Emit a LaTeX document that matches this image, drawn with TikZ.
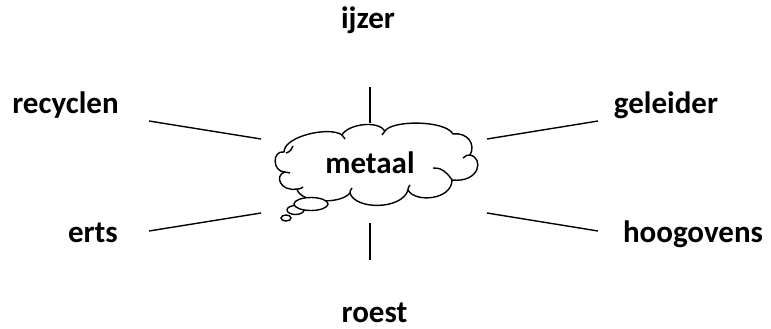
\documentclass[tikz,border=0pt]{standalone}
\usepackage{fontspec}
\setmainfont{Carlito}
\tikzset{
  woord/.style={font=\bfseries\fontsize{31}{36}\selectfont, anchor=base, inner sep=0pt},
  spaak/.style={line width=1.4pt},
  bel/.style={line width=1.4pt, fill=white},
}
\begin{document}
\begin{tikzpicture}[x=1pt,y=-1pt]
\useasboundingbox (0,0) rectangle (771,329);
\node[woord] (ijzer) at (368,29) {ijzer};
\node[woord] (recyclen) at (65.5,113) {recyclen};
\node[woord] (geleider) at (666,113) {geleider};
\node[woord] (erts) at (93,242) {erts};
\node[woord] (hoogovens) at (693,242) {hoogovens};
\node[woord] (roest) at (374.5,322) {roest};
% wolk
\draw[bel, line join=round] (284,152)
  .. controls (284,136) and (330,126) .. (342,135)
  .. controls (348,124) and (378,120) .. (385,131)
  .. controls (392,120) and (445,120) .. (453,134)
  .. controls (468,132) and (476,145) .. (470,155)
  .. controls (484,158) and (480,183) .. (452,180)
  .. controls (452,200) and (415,203) .. (408,190)
  .. controls (402,210) and (355,210) .. (350,193)
  .. controls (340,205) and (300,203) .. (297,189)
  .. controls (280,192) and (274,175) .. (285,172)
  .. controls (272,172) and (272,150) .. (284,152) -- cycle;
\draw[spaak]
  (286,153) .. controls (290,152) and (292,149) .. (293,146)
  (342,135) .. controls (343,137) .. (345,139)
  (385,131) .. controls (384,133) .. (382,135)
  (470,155) .. controls (467,155) .. (463,158)
  (452,180) .. controls (447,172) and (440,167) .. (433,168)
  (408,190) .. controls (408,188) .. (410,185)
  (350,193) .. controls (350,191) .. (352,188)
  (297,189) .. controls (300,189) .. (303,187)
  (285,172) .. controls (287,173) .. (290,173);
\draw[bel] (286,218) ellipse [x radius=5, y radius=3];
\draw[bel] (295.5,210) ellipse [x radius=8.5, y radius=4.5];
\draw[bel] (311,204) ellipse [x radius=17, y radius=6.5];
\node[woord] (metaal) at (370,173) {metaal};
\coordinate (n1) at (370,87);  \coordinate (n2) at (370,123);
\coordinate (z1) at (370,223); \coordinate (z2) at (370,260);
\coordinate (nw1) at (149,121); \coordinate (nw2) at (261,139);
\coordinate (zw1) at (149,231); \coordinate (zw2) at (261,213);
\coordinate (no1) at (598,121); \coordinate (no2) at (487,139);
\coordinate (zo1) at (598,231); \coordinate (zo2) at (487,213);
\draw[spaak] (n1) to (n2);
\draw[spaak] (z2) to (z1);
\draw[spaak] (nw1) to (nw2);
\draw[spaak] (zw1) to (zw2);
\draw[spaak] (no1) to (no2);
\draw[spaak] (zo1) to (zo2);
\end{tikzpicture}
\end{document}
